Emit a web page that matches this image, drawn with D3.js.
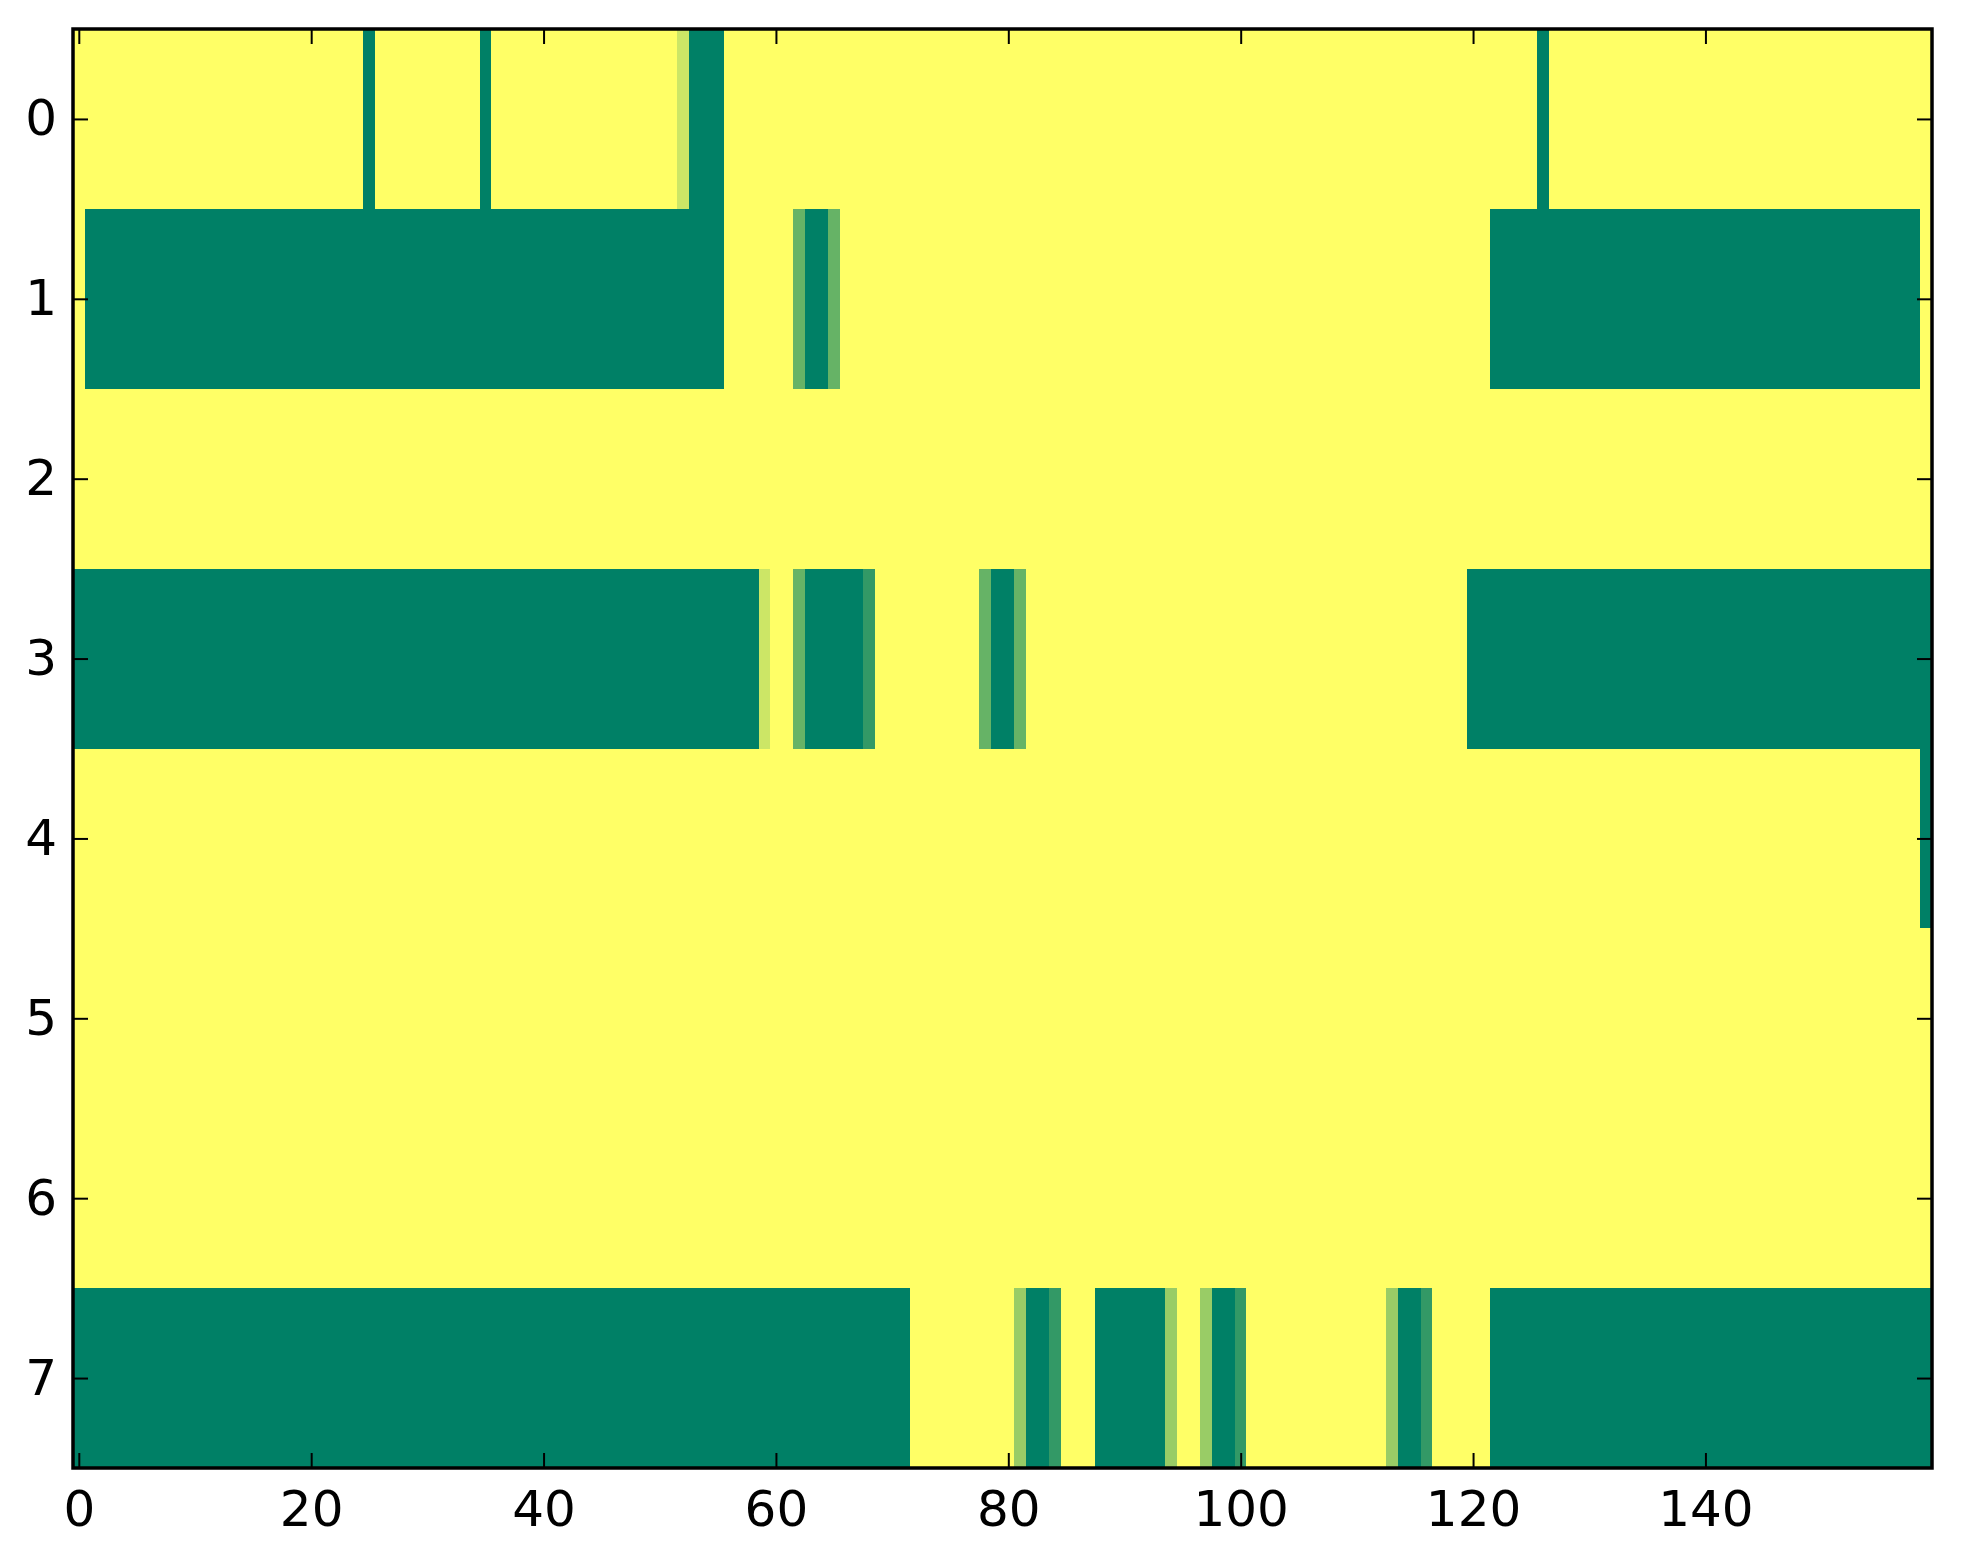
<!DOCTYPE html>
<html>
<head>
<meta charset="utf-8">
<script src="https://cdn.jsdelivr.net/npm/d3@7"></script>
<style>
  html, body { margin: 0; padding: 0; background: #ffffff; }
  svg { display: block; }
  .tick text { font-family: "DejaVu Sans", sans-serif; font-size: 50px; fill: #000; }
</style>
</head>
<body>
<svg id="chart" width="1963" height="1564"></svg>
<script>
// ---- data (values in 0..1, summer colormap) ----
const rowLabels = [0, 1, 2, 3, 4, 5, 6, 7];
const xTickValues = [0, 20, 40, 60, 80, 100, 120, 140];

const row0 = [
  1,1,1,1,1,1,1,1,1,1,1,1,1,1,1,1,1,1,1,1,
  1,1,1,1,1,0,1,1,1,1,1,1,1,1,1,0,1,1,1,1,
  1,1,1,1,1,1,1,1,1,1,1,1,0.8,0,0,0,1,1,1,1,
  1,1,1,1,1,1,1,1,1,1,1,1,1,1,1,1,1,1,1,1,
  1,1,1,1,1,1,1,1,1,1,1,1,1,1,1,1,1,1,1,1,
  1,1,1,1,1,1,1,1,1,1,1,1,1,1,1,1,1,1,1,1,
  1,1,1,1,1,1,0,1,1,1,1,1,1,1,1,1,1,1,1,1,
  1,1,1,1,1,1,1,1,1,1,1,1,1,1,1,1,1,1,1,1
];
const row1 = [
  1,0,0,0,0,0,0,0,0,0,0,0,0,0,0,0,0,0,0,0,
  0,0,0,0,0,0,0,0,0,0,0,0,0,0,0,0,0,0,0,0,
  0,0,0,0,0,0,0,0,0,0,0,0,0,0,0,0,1,1,1,1,
  1,1,0.4,0,0,0.4,1,1,1,1,1,1,1,1,1,1,1,1,1,1,
  1,1,1,1,1,1,1,1,1,1,1,1,1,1,1,1,1,1,1,1,
  1,1,1,1,1,1,1,1,1,1,1,1,1,1,1,1,1,1,1,1,
  1,1,0,0,0,0,0,0,0,0,0,0,0,0,0,0,0,0,0,0,
  0,0,0,0,0,0,0,0,0,0,0,0,0,0,0,0,0,0,0,1
];
const row2 = [
  1,1,1,1,1,1,1,1,1,1,1,1,1,1,1,1,1,1,1,1,
  1,1,1,1,1,1,1,1,1,1,1,1,1,1,1,1,1,1,1,1,
  1,1,1,1,1,1,1,1,1,1,1,1,1,1,1,1,1,1,1,1,
  1,1,1,1,1,1,1,1,1,1,1,1,1,1,1,1,1,1,1,1,
  1,1,1,1,1,1,1,1,1,1,1,1,1,1,1,1,1,1,1,1,
  1,1,1,1,1,1,1,1,1,1,1,1,1,1,1,1,1,1,1,1,
  1,1,1,1,1,1,1,1,1,1,1,1,1,1,1,1,1,1,1,1,
  1,1,1,1,1,1,1,1,1,1,1,1,1,1,1,1,1,1,1,1
];
const row3 = [
  0,0,0,0,0,0,0,0,0,0,0,0,0,0,0,0,0,0,0,0,
  0,0,0,0,0,0,0,0,0,0,0,0,0,0,0,0,0,0,0,0,
  0,0,0,0,0,0,0,0,0,0,0,0,0,0,0,0,0,0,0,0.8,
  1,1,0.4,0,0,0,0,0,0.2,1,1,1,1,1,1,1,1,1,0.4,0,
  0,0.4,1,1,1,1,1,1,1,1,1,1,1,1,1,1,1,1,1,1,
  1,1,1,1,1,1,1,1,1,1,1,1,1,1,1,1,1,1,1,1,
  0,0,0,0,0,0,0,0,0,0,0,0,0,0,0,0,0,0,0,0,
  0,0,0,0,0,0,0,0,0,0,0,0,0,0,0,0,0,0,0,0
];
const row4 = [
  1,1,1,1,1,1,1,1,1,1,1,1,1,1,1,1,1,1,1,1,
  1,1,1,1,1,1,1,1,1,1,1,1,1,1,1,1,1,1,1,1,
  1,1,1,1,1,1,1,1,1,1,1,1,1,1,1,1,1,1,1,1,
  1,1,1,1,1,1,1,1,1,1,1,1,1,1,1,1,1,1,1,1,
  1,1,1,1,1,1,1,1,1,1,1,1,1,1,1,1,1,1,1,1,
  1,1,1,1,1,1,1,1,1,1,1,1,1,1,1,1,1,1,1,1,
  1,1,1,1,1,1,1,1,1,1,1,1,1,1,1,1,1,1,1,1,
  1,1,1,1,1,1,1,1,1,1,1,1,1,1,1,1,1,1,1,0
];
const row5 = [
  1,1,1,1,1,1,1,1,1,1,1,1,1,1,1,1,1,1,1,1,
  1,1,1,1,1,1,1,1,1,1,1,1,1,1,1,1,1,1,1,1,
  1,1,1,1,1,1,1,1,1,1,1,1,1,1,1,1,1,1,1,1,
  1,1,1,1,1,1,1,1,1,1,1,1,1,1,1,1,1,1,1,1,
  1,1,1,1,1,1,1,1,1,1,1,1,1,1,1,1,1,1,1,1,
  1,1,1,1,1,1,1,1,1,1,1,1,1,1,1,1,1,1,1,1,
  1,1,1,1,1,1,1,1,1,1,1,1,1,1,1,1,1,1,1,1,
  1,1,1,1,1,1,1,1,1,1,1,1,1,1,1,1,1,1,1,1
];
const row6 = [
  1,1,1,1,1,1,1,1,1,1,1,1,1,1,1,1,1,1,1,1,
  1,1,1,1,1,1,1,1,1,1,1,1,1,1,1,1,1,1,1,1,
  1,1,1,1,1,1,1,1,1,1,1,1,1,1,1,1,1,1,1,1,
  1,1,1,1,1,1,1,1,1,1,1,1,1,1,1,1,1,1,1,1,
  1,1,1,1,1,1,1,1,1,1,1,1,1,1,1,1,1,1,1,1,
  1,1,1,1,1,1,1,1,1,1,1,1,1,1,1,1,1,1,1,1,
  1,1,1,1,1,1,1,1,1,1,1,1,1,1,1,1,1,1,1,1,
  1,1,1,1,1,1,1,1,1,1,1,1,1,1,1,1,1,1,1,1
];
const row7 = [
  0,0,0,0,0,0,0,0,0,0,0,0,0,0,0,0,0,0,0,0,
  0,0,0,0,0,0,0,0,0,0,0,0,0,0,0,0,0,0,0,0,
  0,0,0,0,0,0,0,0,0,0,0,0,0,0,0,0,0,0,0,0,
  0,0,0,0,0,0,0,0,0,0,0,0,1,1,1,1,1,1,1,1,
  1,0.6,0,0,0.2,1,1,1,0,0,0,0,0,0,0.6,1,1,0.6,0,0,
  0.2,1,1,1,1,1,1,1,1,1,1,1,1,0.6,0,0,0.2,1,1,1,
  1,1,0,0,0,0,0,0,0,0,0,0,0,0,0,0,0,0,0,0,
  0,0,0,0,0,0,0,0,0,0,0,0,0,0,0,0,0,0,0,0
];
const rows = [row0, row1, row2, row3, row4, row5, row6, row7];

// ---- layout ----
const plot = { left: 73, top: 29, right: 1932, bottom: 1468 };
const nCols = row0.length;

const svg = d3.select("#chart");

const x = d3.scaleLinear().domain([-0.5, nCols - 0.5]).range([plot.left, plot.right]);
const y = d3.scaleLinear().domain([-0.5, rows.length - 0.5]).range([plot.top, plot.bottom]);
// matplotlib "summer": (v, 0.5+0.5v, 0.4)
const color = d3.scaleLinear().domain([0, 1]).range(["rgb(0,128,102)", "rgb(255,255,102)"]).interpolate(d3.interpolateRgb);

const cells = [];
rows.forEach((r, i) => r.forEach((v, j) => cells.push({ i, j, v })));

svg.append("clipPath").attr("id", "clip")
  .append("rect")
  .attr("x", plot.left).attr("y", plot.top)
  .attr("width", plot.right - plot.left).attr("height", plot.bottom - plot.top);

svg.append("g").attr("clip-path", "url(#clip)")
  .selectAll("rect")
  .data(cells)
  .join("rect")
  .attr("x", d => x(d.j - 0.5))
  .attr("y", d => y(d.i - 0.5))
  .attr("width", d => x(d.j + 0.5) - x(d.j - 0.5) + 0.6)
  .attr("height", d => y(d.i + 0.5) - y(d.i - 0.5) + 0.6)
  .attr("fill", d => color(d.v))
  .attr("shape-rendering", "crispEdges");

// ---- axes (ticks inward on all four sides) ----
const tickLen = 15;

const xb = svg.append("g").attr("transform", `translate(0,${plot.bottom})`)
  .call(d3.axisBottom(x).tickValues(xTickValues).tickSizeInner(-tickLen).tickSizeOuter(0).tickPadding(22));
const xt = svg.append("g").attr("transform", `translate(0,${plot.top})`)
  .call(d3.axisTop(x).tickValues(xTickValues).tickSizeInner(-tickLen).tickSizeOuter(0).tickFormat(""));
const yl = svg.append("g").attr("transform", `translate(${plot.left},0)`)
  .call(d3.axisLeft(y).tickValues(rowLabels).tickSizeInner(-tickLen).tickSizeOuter(0).tickPadding(16));
const yr = svg.append("g").attr("transform", `translate(${plot.right},0)`)
  .call(d3.axisRight(y).tickValues(rowLabels).tickSizeInner(-tickLen).tickSizeOuter(0).tickFormat(""));

[xb, xt, yl, yr].forEach(g => {
  g.select(".domain").remove();
  g.selectAll(".tick line").attr("stroke", "#000").attr("stroke-width", 2);
  g.selectAll(".tick text").attr("fill", "#000");
});

// frame
svg.append("rect")
  .attr("x", plot.left).attr("y", plot.top)
  .attr("width", plot.right - plot.left).attr("height", plot.bottom - plot.top)
  .attr("fill", "none").attr("stroke", "#000").attr("stroke-width", 3.5);
</script>
</body>
</html>
